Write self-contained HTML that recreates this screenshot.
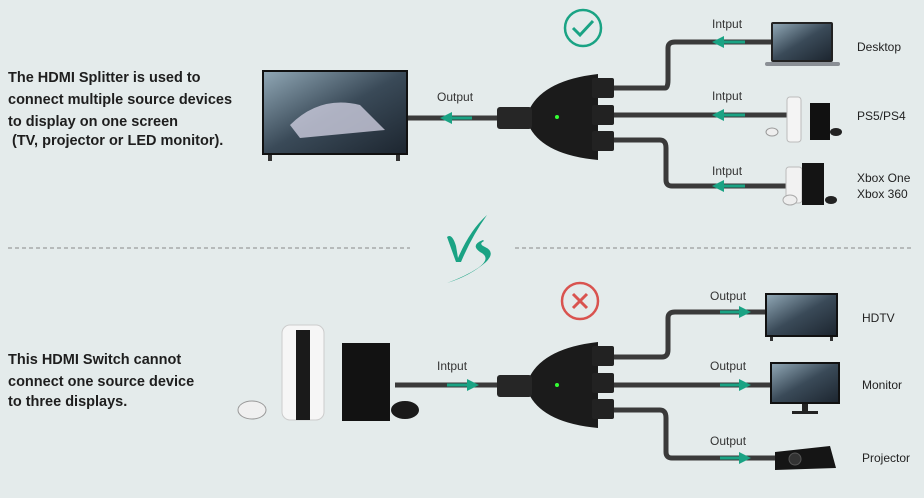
<!DOCTYPE html>
<html><head><meta charset="utf-8"><style>
html,body{margin:0;padding:0;background:#e4ebeb;}
svg{display:block}
text{font-family:"Liberation Sans",sans-serif;}
</style></head><body>
<svg width="924" height="498" viewBox="0 0 924 498" xmlns="http://www.w3.org/2000/svg">
<defs>
<linearGradient id="scr" x1="0" y1="0" x2="1" y2="1"><stop offset="0" stop-color="#8fa6b4"/><stop offset="0.5" stop-color="#3a4a58"/><stop offset="1" stop-color="#1d2630"/></linearGradient>
<marker id="ah" viewBox="0 0 10 10" refX="5" refY="5" markerWidth="4" markerHeight="4" orient="auto"><path d="M0,0 L10,5 L0,10 z" fill="#1aa384"/></marker>
</defs>
<rect width="924" height="498" fill="#e4ebeb"/>
<!-- text -->
<g font-size="14.5" font-weight="bold" fill="#1e1e1e">
<text x="8" y="82">The HDMI Splitter is used to</text>
<text x="8" y="104">connect multiple source devices</text>
<text x="8" y="126">to display on one screen</text>
<text x="12" y="145">(TV, projector or LED monitor).</text>
<text x="8" y="364">This HDMI Switch cannot</text>
<text x="8" y="386">connect one source device</text>
<text x="8" y="406">to three displays.</text>
</g>
<!-- dashed line -->
<line x1="8" y1="248" x2="410" y2="248" stroke="#888" stroke-dasharray="4,3"/>
<line x1="515" y1="248" x2="914" y2="248" stroke="#888" stroke-dasharray="4,3"/>
<!-- VS -->
<path d="M447,237 Q452,233 456,246 L458,258 Q470,230 487,215 Q472,236 461,262 L456,262 Z" fill="#1aa384"/>
<path d="M483,240 Q470,245 480,252 Q492,258 478,268 Q466,276 447,283 Q470,276 486,262 Q496,252 485,247 Q478,244 484,241 Z" fill="#1aa384"/>
<!-- check & X -->
<circle cx="583" cy="28" r="18" fill="none" stroke="#1aa384" stroke-width="2.5"/>
<path d="M573,28 L580,35 L593,21" fill="none" stroke="#1aa384" stroke-width="3"/>
<circle cx="580" cy="301" r="18" fill="none" stroke="#d9534f" stroke-width="2.5"/>
<path d="M573,294 L587,308 M587,294 L573,308" stroke="#d9534f" stroke-width="3"/>
<!-- top cables -->
<g fill="none" stroke="#3a3a3a" stroke-width="5" stroke-linejoin="round">
<path d="M400,118 L500,118"/>
<path d="M598,88 L665,88 Q668,88 668,80 L668,48 Q668,42 675,42 L775,42"/>
<path d="M598,115 L790,115"/>
<path d="M598,140 L660,140 Q666,140 666,148 L666,180 Q666,186 672,186 L810,186"/>
<path d="M395,385 L500,385"/>
<path d="M598,357 L662,357 Q668,357 668,350 L668,318 Q668,312 675,312 L770,312"/>
<path d="M598,385 L775,385"/>
<path d="M598,410 L660,410 Q666,410 666,418 L666,452 Q666,458 672,458 L780,458"/>
</g>
<!-- arrows -->
<g stroke="#1aa384" stroke-width="3">
<line x1="472" y1="118" x2="446" y2="118" marker-end="url(#ah)"/>
<line x1="745" y1="42" x2="718" y2="42" marker-end="url(#ah)"/>
<line x1="745" y1="115" x2="718" y2="115" marker-end="url(#ah)"/>
<line x1="745" y1="186" x2="718" y2="186" marker-end="url(#ah)"/>
<line x1="447" y1="385" x2="473" y2="385" marker-end="url(#ah)"/>
<line x1="720" y1="312" x2="745" y2="312" marker-end="url(#ah)"/>
<line x1="720" y1="385" x2="745" y2="385" marker-end="url(#ah)"/>
<line x1="720" y1="458" x2="745" y2="458" marker-end="url(#ah)"/>
</g>
<g font-size="12" fill="#333">
<text x="437" y="101">Output</text>
<text x="712" y="28">Intput</text>
<text x="712" y="100">Intput</text>
<text x="712" y="175">Intput</text>
<text x="437" y="370">Intput</text>
<text x="710" y="300">Output</text>
<text x="710" y="370">Output</text>
<text x="710" y="445">Output</text>
</g>
<g font-size="12" fill="#222">
<text x="857" y="51">Desktop</text>
<text x="857" y="120">PS5/PS4</text>
<text x="857" y="182">Xbox One</text>
<text x="857" y="198">Xbox 360</text>
<text x="862" y="322">HDTV</text>
<text x="862" y="389">Monitor</text>
<text x="862" y="462">Projector</text>
</g>
<!-- splitters -->
<g id="sp">
<path d="M500,108 L530,108 Q545,80 598,74 L598,160 Q545,155 530,128 L500,128 Z" fill="#1b1b1b"/>
<rect x="497" y="107" width="35" height="22" rx="3" fill="#262626"/>
<rect x="592" y="78" width="22" height="20" rx="2" fill="#222"/>
<rect x="592" y="105" width="22" height="20" rx="2" fill="#222"/>
<rect x="592" y="131" width="22" height="20" rx="2" fill="#222"/>
<circle cx="557" cy="117" r="2" fill="#3f3"/>
</g>
<use href="#sp" transform="translate(0,268)"/>
<!-- TV -->
<rect x="262" y="70" width="146" height="85" fill="#111"/>
<rect x="264" y="72" width="142" height="81" fill="url(#scr)"/>
<path d="M290,125 Q320,95 360,105 L385,130 L300,138 Z" fill="#ccd" opacity="0.8"/>
<rect x="268" y="155" width="4" height="6" fill="#333"/><rect x="396" y="155" width="4" height="6" fill="#333"/>
<!-- laptop -->
<rect x="771" y="22" width="62" height="40" rx="2" fill="#222"/>
<rect x="773" y="24" width="58" height="36" fill="url(#scr)"/>
<rect x="765" y="62" width="75" height="4" rx="2" fill="#8a8f95"/>
<!-- PS5/PS4 top -->
<rect x="787" y="97" width="14" height="45" rx="3" fill="#f4f4f4" stroke="#bbb"/>
<rect x="810" y="103" width="20" height="37" fill="#111"/>
<ellipse cx="772" cy="132" rx="6" ry="4" fill="#eee" stroke="#999"/>
<ellipse cx="836" cy="132" rx="6" ry="4" fill="#222"/>
<!-- Xbox -->
<rect x="786" y="167" width="16" height="36" rx="3" fill="#f2f2f2" stroke="#bbb"/>
<rect x="802" y="163" width="22" height="42" fill="#141414"/>
<ellipse cx="790" cy="200" rx="7" ry="5" fill="#eee" stroke="#aaa"/>
<ellipse cx="831" cy="200" rx="6" ry="4" fill="#222"/>
<!-- PS5 bottom -->
<rect x="282" y="325" width="42" height="95" rx="8" fill="#f6f6f6" stroke="#ccc"/>
<rect x="296" y="330" width="14" height="90" fill="#1a1a1a"/>
<rect x="342" y="343" width="48" height="78" fill="#121212"/>
<ellipse cx="252" cy="410" rx="14" ry="9" fill="#f0f0f0" stroke="#999"/>
<ellipse cx="405" cy="410" rx="14" ry="9" fill="#1a1a1a"/>
<!-- HDTV -->
<rect x="765" y="293" width="73" height="44" fill="#111"/>
<rect x="767" y="295" width="69" height="40" fill="url(#scr)"/>
<rect x="770" y="337" width="3" height="4" fill="#333"/><rect x="830" y="337" width="3" height="4" fill="#333"/>
<!-- monitor -->
<rect x="770" y="362" width="70" height="42" fill="#111"/>
<rect x="772" y="364" width="66" height="38" fill="url(#scr)"/>
<rect x="802" y="404" width="6" height="7" fill="#222"/><rect x="792" y="411" width="26" height="3" fill="#222"/>
<!-- projector -->
<path d="M775,452 L830,446 L836,468 L775,470 Z" fill="#151515"/>
<circle cx="795" cy="459" r="6" fill="#333" stroke="#555"/>
</svg>
</body></html>
